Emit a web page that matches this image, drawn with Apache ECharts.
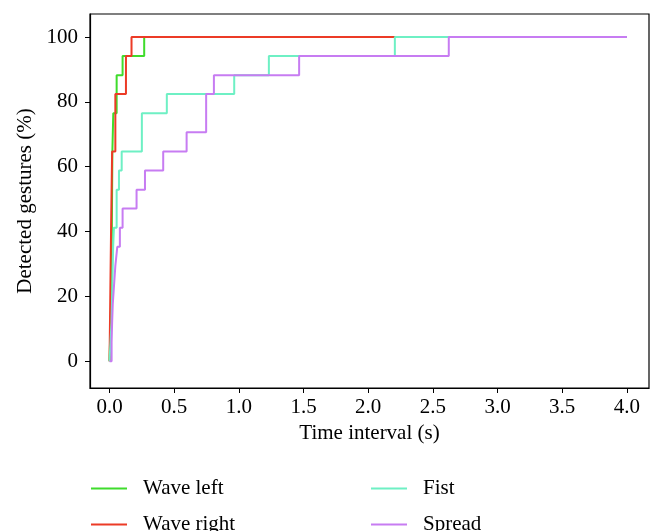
<!DOCTYPE html>
<html>
<head>
<meta charset="utf-8">
<script src="https://cdn.jsdelivr.net/npm/echarts@6/dist/echarts.min.js"></script>
<style>
  html, body { margin: 0; padding: 0; background: #fff; }
  #chart { width: 664px; height: 531px; }
</style>
</head>
<body>
<div id="chart"></div>
<script>
// cumulative detection curves, times in s, values in %
var waveLeftT = [0, 0.012, 0.018, 0.022, 0.029, 0.055, 0.101, 0.268, 4.0]
var waveLeftV = [0, 17.6, 41.2, 64.7, 76.5, 88.2, 94.1, 100, 100]

var waveRightT = [0, 0.012, 0.02, 0.045, 0.127, 0.170, 4.0]
var waveRightV = [0, 41.2, 64.7, 82.4, 94.1, 100, 100]

var fistT = [0, 0.015, 0.022, 0.028, 0.034, 0.055, 0.073, 0.094, 0.25, 0.443, 0.964, 1.232, 2.206, 4.0]
var fistV = [0, 11.8, 23.5, 35.3, 41.2, 52.9, 58.8, 64.7, 76.5, 82.4, 88.2, 94.1, 100, 100]

var spreadT = [0, 0.016, 0.02, 0.025, 0.035, 0.045, 0.06, 0.08, 0.101, 0.209, 0.274, 0.415, 0.596, 0.747, 0.807, 1.466, 2.623, 4.0]
var spreadV = [0, 5.9, 11.8, 17.6, 23.5, 29.4, 35.3, 41.2, 47.1, 52.9, 58.8, 64.7, 70.6, 82.4, 88.2, 94.1, 100, 100]

var xTicks = [0, 0.5, 1, 1.5, 2, 2.5, 3, 3.5, 4]
var yTicks = [0, 20, 40, 60, 80, 100]

var font = 'Liberation Serif'

function pairs(t, v) {
  return t.map(function (x, i) { return [x, v[i]] })
}

function makeSeries(name, color, t, v) {
  return {
    name: name,
    type: 'line',
    step: 'end',
    symbol: 'none',
    data: pairs(t, v),
    lineStyle: { color: color, width: 2 },
    itemStyle: { color: color }
  }
}

// one legend per entry so the 2x2 layout is exact
function legendItem(name, left, top) {
  return {
    data: [name],
    left: left,
    top: top,
    padding: 0,
    icon: 'rect',
    itemWidth: 36,
    itemHeight: 2,
    textStyle: { fontFamily: font, fontSize: 21, color: '#000', lineHeight: 21, padding: [0, 0, 0, 11] }
  }
}

var chart = echarts.init(document.getElementById('chart'))
chart.setOption({
  animation: false,
  grid: {
    left: 90,
    right: 15,
    top: 14,
    bottom: 143,
    show: true,
    borderColor: '#000',
    borderWidth: 1.2
  },
  legend: [
    legendItem('Wave left', 91, 478),
    legendItem('Wave right', 91, 514),
    legendItem('Fist', 371, 478),
    legendItem('Spread', 371, 514)
  ],
  xAxis: {
    type: 'value',
    min: -0.151,
    max: 4.171,
    name: 'Time interval (s)',
    nameLocation: 'middle',
    nameGap: 34,
    nameTextStyle: { fontFamily: font, fontSize: 21, color: '#000' },
    axisLine: { onZero: false, lineStyle: { color: '#000', width: 1.2 } },
    axisTick: { show: true, length: 5, customValues: xTicks, lineStyle: { color: '#000' } },
    axisLabel: {
      customValues: xTicks,
      margin: 9,
      fontFamily: font,
      fontSize: 21,
      color: '#000',
      formatter: function (v) { return v.toFixed(1) }
    },
    splitLine: { show: false }
  },
  yAxis: {
    type: 'value',
    min: -8.25,
    max: 107.09,
    name: 'Detected gestures (%)',
    nameLocation: 'middle',
    nameGap: 51,
    nameTextStyle: { fontFamily: font, fontSize: 21, color: '#000' },
    axisLine: { show: true, onZero: false, lineStyle: { color: '#000', width: 1.2 } },
    axisTick: { show: true, length: 5, customValues: yTicks, lineStyle: { color: '#000' } },
    axisLabel: {
      customValues: yTicks,
      margin: 12,
      fontFamily: font,
      fontSize: 21,
      color: '#000'
    },
    splitLine: { show: false }
  },
  series: [
    makeSeries('Wave left', '#3fdc2c', waveLeftT, waveLeftV),
    makeSeries('Wave right', '#ec3b26', waveRightT, waveRightV),
    makeSeries('Fist', '#6ef0c4', fistT, fistV),
    makeSeries('Spread', '#c77cf2', spreadT, spreadV)
  ]
})
</script>
</body>
</html>
